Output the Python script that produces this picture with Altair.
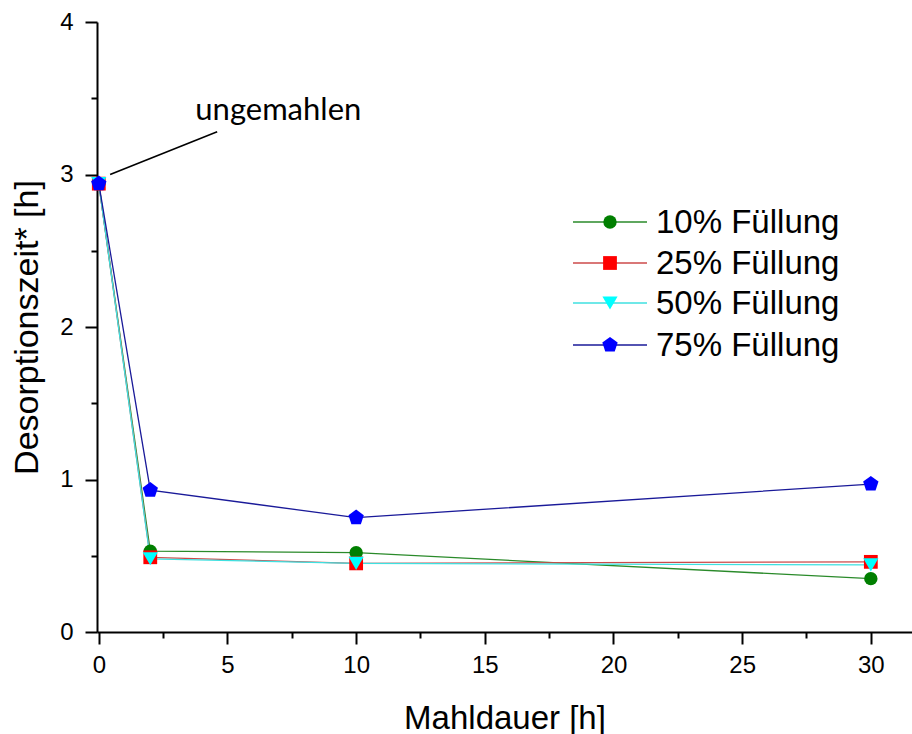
import altair as alt
import pandas as pd

# ---- data ----
mahldauer = [0, 2, 10, 30]
series_names = ["10% Füllung", "25% Füllung", "50% Füllung", "75% Füllung"]
y_10 = [2.94, 0.53, 0.52, 0.35]
y_25 = [2.94, 0.49, 0.45, 0.46]
y_50 = [2.94, 0.48, 0.45, 0.44]
y_75 = [2.94, 0.93, 0.75, 0.97]
series_values = [y_10, y_25, y_50, y_75]

annot_text = "ungemahlen"
annot_line_x = [0.44, 4.6]
annot_line_y = [3.0, 3.28]
annot_text_x = 3.75
annot_text_y = 3.36

# ---- styles ----
point_colors = ["#007f00", "#ff0000", "#00ffff", "#0000ff"]
line_colors = ["#2a8a2a", "#cc4a4a", "#3fe0e0", "#1a1a99"]
pentagon = "M0,-1L0.951,-0.309L0.588,0.809L-0.588,0.809L-0.951,-0.309Z"
shapes = ["circle", "square", "triangle-down", pentagon]
sizes = [180, 190, 230, 260]

X_DOM = [-0.07, 31.6]
Y_DOM = [0, 4]
W, H = 815, 610

x_minor = [v * 2.5 for v in range(0, 13)]
y_minor = [v * 0.5 for v in range(0, 9)]

xs = alt.Scale(domain=X_DOM, nice=False, zero=False)
ys = alt.Scale(domain=Y_DOM, nice=False, zero=False)

x_axis = alt.Axis(
    values=x_minor,
    labelExpr="datum.value % 5 === 0 ? format(datum.value, 'd') : ''",
    tickSize={"condition": {"test": "datum.value % 5 !== 0", "value": 6}, "value": 12},
    title="Mahldauer [h]",
    labelOverlap=False,
    labelPadding=9,
    titlePadding=25,
)
y_axis = alt.Axis(
    values=y_minor,
    labelExpr="datum.value % 1 === 0 ? format(datum.value, 'd') : ''",
    tickSize={"condition": {"test": "datum.value % 1 !== 0", "value": 6}, "value": 12},
    title="Desorptionszeit* [h]",
    labelOverlap=False,
    labelPadding=12,
    titlePadding=15,
)

rows = []
for name, vals in zip(series_names, series_values):
    for xv, yv in zip(mahldauer, vals):
        rows.append({"Mahldauer": xv, "Zeit": yv, "Serie": name})
df = pd.DataFrame(rows)

layers = []
# lines
for i, name in enumerate(series_names):
    d = df[df["Serie"] == name]
    layers.append(
        alt.Chart(d).mark_line(color=line_colors[i], strokeWidth=1.3).encode(
            x=alt.X("Mahldauer:Q", scale=xs, axis=x_axis),
            y=alt.Y("Zeit:Q", scale=ys, axis=y_axis),
        )
    )
# points
for i, name in enumerate(series_names):
    d = df[df["Serie"] == name]
    layers.append(
        alt.Chart(d).mark_point(
            filled=True, opacity=1, color=point_colors[i], shape=shapes[i], size=sizes[i]
        ).encode(
            x=alt.X("Mahldauer:Q", scale=xs),
            y=alt.Y("Zeit:Q", scale=ys),
        )
    )

# annotation
ann_df = pd.DataFrame({"x": annot_line_x, "y": annot_line_y})
layers.append(
    alt.Chart(ann_df).mark_line(color="black", strokeWidth=1.6).encode(
        x=alt.X("x:Q", scale=xs), y=alt.Y("y:Q", scale=ys)
    )
)
txt_df = pd.DataFrame({"x": [annot_text_x], "y": [annot_text_y], "t": [annot_text]})
layers.append(
    alt.Chart(txt_df).mark_text(
        align="left", baseline="alphabetic", font="Lato", fontSize=31, color="black"
    ).encode(x=alt.X("x:Q", scale=xs), y=alt.Y("y:Q", scale=ys), text="t:N")
)

# manual legend (pixel positions inside the plot area)
leg_rows_y = [200, 241, 281, 323]
for i, name in enumerate(series_names):
    ly = leg_rows_y[i]
    leg_df = pd.DataFrame({"t": [name]})
    layers.append(
        alt.Chart(leg_df).mark_rule(color=line_colors[i], strokeWidth=1.3).encode(
            x=alt.value(476), x2=alt.value(550), y=alt.value(ly)
        )
    )
    layers.append(
        alt.Chart(leg_df).mark_point(
            filled=True, opacity=1, color=point_colors[i], shape=shapes[i], size=sizes[i]
        ).encode(x=alt.value(513), y=alt.value(ly))
    )
    layers.append(
        alt.Chart(leg_df).mark_text(
            align="left", baseline="middle", font="Liberation Sans", fontSize=33, color="black"
        ).encode(x=alt.value(559), y=alt.value(ly + 1), text="t:N")
    )

chart = (
    alt.layer(*layers)
    .properties(
        width=W,
        height=H,
        autosize=alt.AutoSizeParams(type="none"),
        padding={"left": 97, "top": 22, "right": 0, "bottom": 102},
        background="white",
    )
    .configure_view(stroke=None)
    .configure_axis(
        grid=False,
        domainColor="black",
        domainWidth=2,
        tickColor="black",
        tickWidth=2,
        labelFont="Liberation Sans",
        labelFontSize=24,
        labelColor="black",
        titleFont="Liberation Sans",
        titleFontSize=33,
        titleFontWeight="normal",
        titleColor="black",
    )
    .configure_axisLeft(titleFontSize=34)
)

chart.save("out.html", embed_options={"renderer": "svg", "actions": False})
